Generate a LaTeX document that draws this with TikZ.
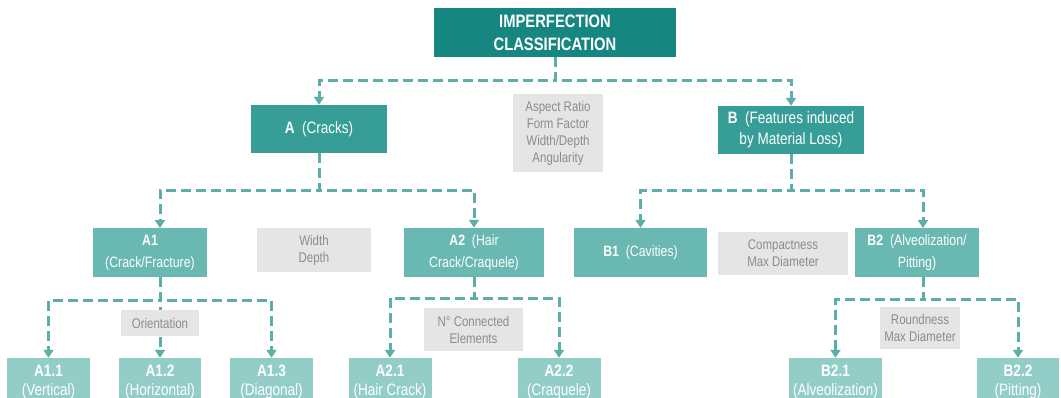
\documentclass[tikz,border=0pt]{standalone}
\usepackage{fontspec}
\setmainfont{Liberation Sans}[FakeStretch=0.82]
\usetikzlibrary{arrows.meta}

\definecolor{tealTop}{RGB}{22,134,128}
\definecolor{tealOne}{RGB}{54,158,151}
\definecolor{tealTwo}{RGB}{106,184,178}
\definecolor{tealLeaf}{RGB}{147,205,200}
\definecolor{linkCol}{RGB}{92,174,168}
\definecolor{noteFill}{RGB}{229,229,229}
\definecolor{noteText}{RGB}{140,140,140}

\tikzset{
  box/.style={rectangle, inner sep=0pt, align=center, text=white},
  topbox/.style={box, fill=tealTop, font=\fontsize{18}{23}\selectfont\bfseries},
  onebox/.style={box, fill=tealOne, font=\fontsize{16.5}{21}\selectfont},
  twobox/.style={box, fill=tealTwo, font=\fontsize{15}{22}\selectfont},
  leafbox/.style={box, fill=tealLeaf, font=\fontsize{16.5}{19}\selectfont},
  notebox/.style={rectangle, inner sep=0pt, align=center, fill=noteFill, text=noteText,
                  font=\fontsize{14}{17}\selectfont},
  link/.style={draw=linkCol, line width=3pt, dash pattern=on 10pt off 5pt},
  tip/.style={-{Triangle[width=10pt,length=8pt]}},
}

\begin{document}
\begin{tikzpicture}[x=1pt, y=-1pt]
\useasboundingbox (0,0) rectangle (1061,397);
\clip (0,0) rectangle (1061,397);

% boxes
\node[topbox, minimum width=242, minimum height=49] (top) at (555,32.5) {IMPERFECTION\\CLASSIFICATION};

\node[onebox, minimum width=136, minimum height=48] (A) at (319,129) {\textbf{A}\ \ (Cracks)};
\node[onebox, minimum width=146, minimum height=48] (B) at (791,130) {\textbf{B}\ \ (Features induced\\by Material Loss)};

\node[twobox, minimum width=114, minimum height=49] (A1) at (150,252.5) {\textbf{A1}\\(Crack/Fracture)};
\node[twobox, minimum width=140, minimum height=49] (A2) at (474,252.5) {\textbf{A2}\ \ (Hair\\Crack/Craquele)};
\node[twobox, minimum width=133, minimum height=49] (B1) at (640.5,252.5) {\textbf{B1}\ \ (Cavities)};
\node[twobox, minimum width=124, minimum height=49] (B2) at (917,252.5) {\textbf{B2}\ \ (Alveolization/\\Pitting)};

\node[leafbox, minimum width=83, minimum height=48] (A11) at (48.5,382) {\textbf{A1.1}\\(Vertical)};
\node[leafbox, minimum width=82, minimum height=48] (A12) at (160,382) {\textbf{A1.2}\\(Horizontal)};
\node[leafbox, minimum width=83, minimum height=48] (A13) at (271.5,382) {\textbf{A1.3}\\(Diagonal)};
\node[leafbox, minimum width=83, minimum height=48] (A21) at (390,382) {\textbf{A2.1}\\(Hair Crack)};
\node[leafbox, minimum width=83, minimum height=48] (A22) at (559,382) {\textbf{A2.2}\\(Craquele)};
\node[leafbox, minimum width=93, minimum height=48] (B21) at (835.5,382) {\textbf{B2.1}\\(Alveolization)};
\node[leafbox, minimum width=82, minimum height=48] (B22) at (1018,382) {\textbf{B2.2}\\(Pitting)};

% junction points of the dashed links
\coordinate (jTop) at (555,80);
\coordinate (jA) at (319,190);
\coordinate (jB) at (791,190);
\coordinate (inA1) at (160,228);
\coordinate (inB2) at (923,228);
\coordinate (outA1) at (160,277);
\coordinate (jA1) at (160,300);
\coordinate (jA2) at (474,298);
\coordinate (outB2) at (923,277);
\coordinate (jB2) at (923,299);

% dashed links
\draw[link,tip] (top.south) -- (jTop) -| (A.north);
\draw[link,tip] (top.south) -- (jTop) -| (B.north);

\draw[link,tip] (A.south) -- (jA) -| (inA1);
\draw[link,tip] (A.south) -- (jA) -| (A2.north);
\draw[link,tip] (B.south) -- (jB) -| (B1.north);
\draw[link,tip] (B.south) -- (jB) -| (inB2);

\draw[link,tip] (outA1) -- (jA1) -| (A11.north);
\draw[link,tip] (outA1) -- (A12.north);
\draw[link,tip] (outA1) -- (jA1) -| (A13.north);

\draw[link,tip] (A2.south) -- (jA2) -| (A21.north);
\draw[link,tip] (A2.south) -- (jA2) -| (A22.north);

\draw[link,tip] (outB2) -- (jB2) -| (B21.north);
\draw[link,tip] (outB2) -- (jB2) -| (B22.north);

% measured descriptors
\node[notebox, minimum width=90, minimum height=78] (nA) at (558,133) {Aspect Ratio\\Form Factor\\Width/Depth\\Angularity};
\node[notebox, minimum width=114, minimum height=44] (nA1) at (314,250) {Width\\Depth};
\node[notebox, minimum width=78, minimum height=26] (nO) at (160,323) {Orientation};
\node[notebox, minimum width=99, minimum height=43] (nN) at (473.5,329.5) {N° Connected\\Elements};
\node[notebox, minimum width=130, minimum height=43] (nB1) at (783,253.5) {Compactness\\Max Diameter};
\node[notebox, minimum width=80, minimum height=42] (nR) at (920,328) {Roundness\\Max Diameter};
\end{tikzpicture}
\end{document}
